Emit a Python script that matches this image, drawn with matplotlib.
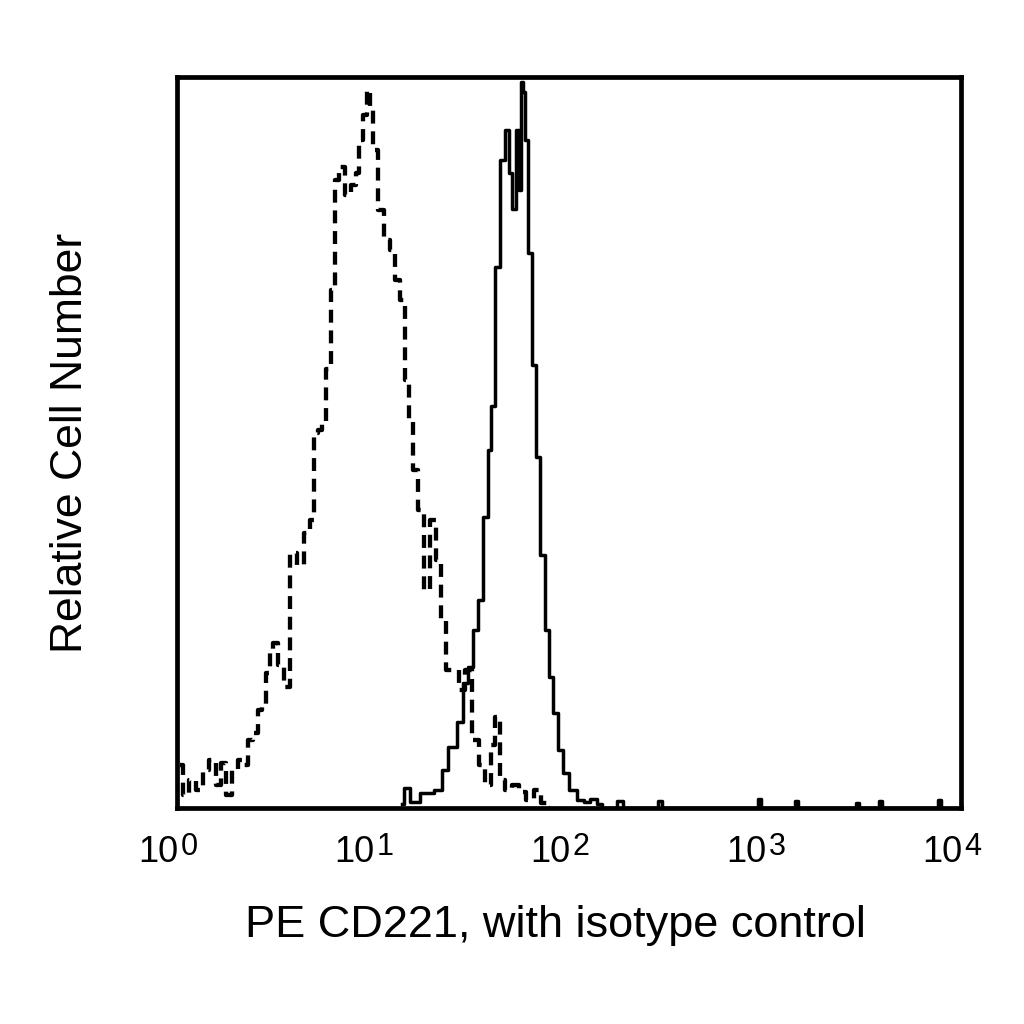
import numpy as np
import matplotlib.pyplot as plt

plt.rcParams['font.family'] = ['Liberation Sans', 'DejaVu Sans']

# PE CD221 stained cells (solid histogram)
cd221_x = [14.0, 14.9, 16.0, 18.9, 22.0, 22.8, 25.6, 27.8, 29.5, 31.3, 33.1, 35.2,
           37.3, 39.5, 40.9, 43.4, 45.5, 48.3, 50.0, 51.8, 54.9, 56.5, 57.6, 58.9,
           61.0, 63.2, 65.5, 69.5, 72.8, 77.2, 80.0, 84.8, 89.9, 95.4, 104.8, 113.7,
           123.6, 133.0, 143.9, 152.0, 170.0, 182.0, 194.0, 280.0, 291.0, 302.0,
           900.0, 937.0, 975.0, 1400.0, 1450.0, 1500.0, 2850.0, 2970.0, 3090.0,
           3720.0, 3870.0, 4020.0, 7500.0, 7800.0, 8100.0]
cd221_y = [0.5, 2.7, 0.8, 2.1, 2.5, 5.2, 8.3, 11.8, 17.1, 19.3, 24.4, 28.5,
           39.8, 49.0, 55.0, 74.0, 88.6, 92.7, 86.9, 81.9, 92.7, 84.5, 99.3, 97.9,
           91.4, 75.9, 60.6, 48.0, 34.6, 24.4, 17.9, 13.0, 7.9, 4.8, 2.5, 1.1,
           0.8, 1.2, 0.5, 0.0, 0.0, 1.0, 0.0, 0.0, 1.0, 0.0,
           0.0, 1.2, 0.0, 0.0, 0.9, 0.0, 0.0, 0.7, 0.0,
           0.0, 1.0, 0.0, 0.0, 1.1, 0.0]

# isotype control (dashed histogram)
iso_x = [1.04, 1.10, 1.19, 1.31, 1.39, 1.53, 1.62, 1.72, 1.82, 1.98, 2.10, 2.22,
         2.36, 2.50, 2.65, 2.78, 2.88, 3.05, 3.16, 3.35, 3.64, 3.91, 4.24, 4.61,
         4.88, 5.06, 5.37, 5.56, 5.89, 6.25, 6.48, 6.95, 7.45, 7.90, 8.38, 8.59,
         9.10, 9.43, 9.88, 10.2, 10.9, 11.8, 12.6, 13.3, 14.1, 14.9, 15.6, 16.4,
         17.4, 18.9, 20.2, 21.5, 22.8, 24.1, 26.2, 28.4, 30.5, 33.1, 36.0, 38.6,
         40.9, 42.9, 45.5, 48.9, 53.0, 57.6, 63.2, 68.7, 75.5, 80.0]
iso_y = [5.9, 1.8, 3.8, 2.5, 5.2, 6.6, 3.1, 6.2, 1.8, 5.2, 6.6, 5.9,
         9.3, 10.3, 13.4, 14.1, 18.5, 21.6, 22.6, 19.6, 16.6, 34.9, 33.2, 37.6,
         39.4, 51.3, 51.7, 53.0, 60.0, 70.9, 85.9, 87.7, 83.9, 85.2, 86.9, 91.4,
         94.8, 98.2, 95.5, 90.0, 81.8, 77.7, 76.3, 72.2, 69.5, 58.5, 53.1, 46.2,
         40.8, 29.8, 39.4, 33.9, 25.7, 18.9, 18.9, 16.1, 18.9, 9.3, 5.9, 3.1,
         8.6, 12.4, 3.8, 2.5, 3.1, 2.2, 1.1, 2.5, 0.7, 0.0]

decades = [0, 1, 2, 3, 4]

fig = plt.figure(figsize=(10.24, 10.24), dpi=100)
ax = fig.add_axes([0.1729, 0.2109, 0.7656, 0.7139])

ax.step(iso_x, iso_y, where='mid', color='black', lw=3.1, linestyle=(0, (3.0, 1.8)))
ax.step(cd221_x, cd221_y, where='mid', color='black', lw=2.5)

ax.set_xscale('log')
ax.set_xlim(1, 1e4)
ax.set_ylim(0, 100)
ax.set_xticks([])
ax.xaxis.set_minor_locator(plt.NullLocator())
ax.set_yticks([])
for s in ax.spines.values():
    s.set_linewidth(3.4)

# decade labels: "10" with a large, slightly raised exponent
for d in decades:
    ax.annotate('10', xy=(10 ** d, 0), xycoords=('data', 'axes fraction'),
                xytext=(1, -39), textcoords='offset points',
                ha='right', va='baseline', fontsize=26, annotation_clip=False)
    ax.annotate(str(d), xy=(10 ** d, 0), xycoords=('data', 'axes fraction'),
                xytext=(2.5, -34), textcoords='offset points',
                ha='left', va='baseline', fontsize=22, annotation_clip=False)

ax.set_xlabel('PE CD221, with isotype control', fontsize=32.5, va='baseline')
ax.xaxis.set_label_coords(0.483, -0.1765)
ax.set_ylabel('Relative Cell Number', fontsize=32, labelpad=62)

fig.savefig('out.png', dpi=100)
